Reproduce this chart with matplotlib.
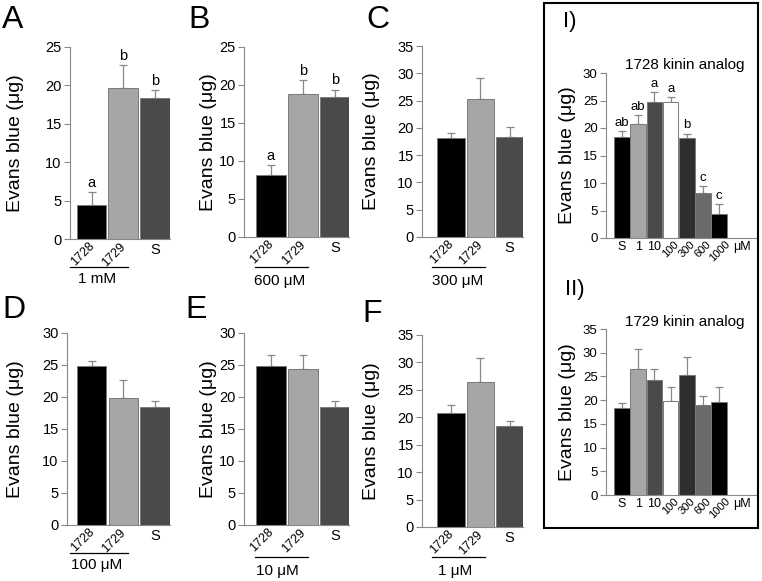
import matplotlib
matplotlib.use("Agg")
import matplotlib.pyplot as plt
from matplotlib.transforms import offset_copy, ScaledTranslation
from matplotlib.patches import Rectangle
from matplotlib.lines import Line2D

plt.rcParams['font.family'] = ['Liberation Sans', 'DejaVu Sans']

# ==============================
# DATA
# ==============================
groups = ['1728', '1729', 'S']

mean_A = [4.4, 19.6, 18.4]
err_A = [1.7, 3.0, 0.95]
mean_B = [8.1, 18.8, 18.4]
err_B = [1.4, 1.9, 1.0]
mean_C = [18.2, 25.2, 18.4]
err_C = [0.8, 4.0, 1.7]
mean_D = [24.8, 19.9, 18.4]
err_D = [0.8, 2.8, 1.0]
mean_E = [24.8, 24.3, 18.4]
err_E = [1.8, 2.3, 1.0]
mean_F = [20.7, 26.5, 18.4]
err_F = [1.6, 4.3, 1.0]

letters_A = ['a', 'b', 'b']
letters_B = ['a', 'b', 'b']

doses = ['S', '1', '10', '100', '300', '600', '1000']
mean_I = [18.4, 20.7, 24.8, 24.8, 18.2, 8.1, 4.4]
err_I = [1.0, 1.6, 1.8, 0.8, 0.8, 1.4, 1.7]
letters_I = ['ab', 'ab', 'a', 'a', 'b', 'c', 'c']
mean_II = [18.4, 26.5, 24.3, 19.9, 25.2, 18.9, 19.6]
err_II = [1.0, 4.3, 2.3, 2.8, 4.0, 1.9, 3.2]

group_colors = ['#000000', '#a6a6a6', '#4a4a4a']
dose_colors = ['#000000', '#a6a6a6', '#4a4a4a', '#ffffff', '#2e2e2e', '#6a6a6a', '#000000']

# ==============================
# HELPERS
# ==============================
W, H = 762, 581
GREY = '#888888'
YLAB = 'Evans blue (\u03bcg)'

fig = plt.figure(figsize=(W / 100, H / 100), dpi=100)


def add_ax(l, r, t, b):
    return fig.add_axes([l / W, 1 - b / H, (r - l) / W, (b - t) / H])


def style(ax, ymax, step, ysize=10.5):
    ax.set_ylim(0, ymax)
    ax.set_yticks(range(0, ymax + 1, step))
    for s in ['top', 'right']:
        ax.spines[s].set_visible(False)
    for s in ['left', 'bottom']:
        ax.spines[s].set_color(GREY)
        ax.spines[s].set_linewidth(0.8)
    ax.tick_params(axis='y', color=GREY, length=4, width=0.8, labelsize=ysize, pad=2)
    ax.tick_params(axis='x', length=0, pad=1)
    ax.patch.set_visible(False)


def bars(ax, means, errs, colors, width, letters=None, lsize=10.5):
    x = list(range(len(means)))
    ax.bar(x, means, width=width, color=colors, edgecolor='#7a7a7a',
           linewidth=0.7, zorder=2)
    ax.errorbar(x, means, yerr=[[0] * len(means), errs], fmt='none',
                ecolor=GREY, elinewidth=0.9, capsize=3, capthick=0.9, zorder=1)
    if letters:
        for xi, m, e, t in zip(x, means, errs, letters):
            ax.annotate(t, (xi, m + e), xytext=(0, 1.5), textcoords='offset points',
                        ha='center', va='bottom', fontsize=lsize)
    return x


# ==============================
# PANELS A-F
# ==============================
small = [
    dict(tag='A', m=mean_A, e=err_A, let=letters_A, conc='1 mM', ymax=25,
         box=(70, 170, 47, 239), xlim=(-0.68, 2.48), line=(28, 40),
         lx=(-0.68, 1.16), tx=0.17, ylx=16, tagxy=(13, 20)),
    dict(tag='B', m=mean_B, e=err_B, let=letters_B, conc='600 \u03bcM', ymax=25,
         box=(244, 349, 47, 237), xlim=(-0.82, 2.42), line=(30, 44),
         lx=(-0.48, 1.15), tx=0.29, ylx=209, tagxy=(199, 20)),
    dict(tag='C', m=mean_C, e=err_C, let=None, conc='300 \u03bcM', ymax=35,
         box=(422, 523, 46, 237), xlim=(-0.99, 2.46), line=(30, 44),
         lx=(-0.65, 1.16), tx=0.24, ylx=371, tagxy=(378, 20)),
    dict(tag='D', m=mean_D, e=err_D, let=None, conc='100 \u03bcM', ymax=30,
         box=(67, 170, 333, 525), xlim=(-0.78, 2.48), line=(28, 40),
         lx=(-0.68, 1.16), tx=0.17, ylx=16, tagxy=(14, 310)),
    dict(tag='E', m=mean_E, e=err_E, let=None, conc='10 \u03bcM', ymax=30,
         box=(244, 349, 333, 525), xlim=(-0.82, 2.42), line=(32, 46),
         lx=(-0.48, 1.15), tx=0.2, ylx=209, tagxy=(196, 310)),
    dict(tag='F', m=mean_F, e=err_F, let=None, conc='1 \u03bcM', ymax=35,
         box=(422, 523, 335, 527), xlim=(-0.99, 2.46), line=(30, 44),
         lx=(-0.65, 1.16), tx=0.14, ylx=371, tagxy=(372, 314)),
]

for p in small:
    l, r, t, b = p['box']
    ax = add_ax(l, r, t, b)
    style(ax, p['ymax'], 5)
    x = bars(ax, p['m'], p['e'], group_colors, 0.93, p['let'])
    ax.set_xlim(*p['xlim'])
    ax.set_xticks(x)
    ax.set_xticklabels(groups)
    shift = ScaledTranslation(5 / 100, 0, fig.dpi_scale_trans)
    for i, lab in enumerate(ax.get_xticklabels()):
        if groups[i] == 'S':
            lab.set_fontsize(10.5)
            lab.set_transform(lab.get_transform() + ScaledTranslation(0, -3 / 100, fig.dpi_scale_trans))
        else:
            lab.set_rotation(45)
            lab.set_ha('right')
            lab.set_fontsize(9)
            lab.set_transform(lab.get_transform() + shift)

    # concentration underline
    tr_line = offset_copy(ax.get_xaxis_transform(), fig=fig, y=-p['line'][0], units='dots')
    ax.add_line(Line2D(list(p['lx']), [0, 0], transform=tr_line, color='black',
                       lw=0.9, clip_on=False))
    tr_txt = offset_copy(ax.get_xaxis_transform(), fig=fig, y=-p['line'][1], units='dots')
    ax.text(p['tx'], 0, p['conc'], transform=tr_txt, ha='center', va='center',
            fontsize=11, clip_on=False)

    fig.text(p['ylx'] / W, 1 - (t + b) / 2 / H, YLAB, rotation=90,
             ha='center', va='center', fontsize=14)
    fig.text(p['tagxy'][0] / W, 1 - p['tagxy'][1] / H, p['tag'],
             ha='center', va='center', fontsize=23)

# ==============================
# PANELS I / II
# ==============================
big = [
    dict(tag='I)', m=mean_I, e=err_I, let=letters_I, title='1728 kinin analog',
         ymax=30, box=(606, 757, 73, 238), tagxy=(570, 22), titley=65),
    dict(tag='II)', m=mean_II, e=err_II, let=None, title='1729 kinin analog',
         ymax=35, box=(606, 757, 329, 495), tagxy=(575, 290), titley=322),
]

for p in big:
    l, r, t, b = p['box']
    ax = add_ax(l, r, t, b)
    style(ax, p['ymax'], 5, ysize=9.5)
    x = bars(ax, p['m'], p['e'], dose_colors, 0.96, p['let'], lsize=9.5)
    ax.set_xlim(-0.99, 8.33)
    ax.set_xticks(x + [7.4])
    ax.set_xticklabels(doses + ['\u03bcM'])
    for i, lab in enumerate(ax.get_xticklabels()):
        lab.set_fontsize(9)
        if i >= 3 and i < len(doses):
            lab.set_rotation(45)
            lab.set_ha('center')
            lab.set_fontsize(8)
        else:
            lab.set_transform(lab.get_transform() + ScaledTranslation(0, -2 / 100, fig.dpi_scale_trans))

    fig.text((l + r) / 2 / W + 0.004, 1 - p['titley'] / H, p['title'],
             ha='center', va='center', fontsize=11)
    fig.text(567 / W, 1 - (t + b) / 2 / H, YLAB, rotation=90,
             ha='center', va='center', fontsize=14)
    fig.text(p['tagxy'][0] / W, 1 - p['tagxy'][1] / H, p['tag'],
             ha='center', va='center', fontsize=16)

fig.add_artist(Rectangle((544 / W, 1 - 528 / H), (758 - 544) / W, (528 - 3) / H,
                         transform=fig.transFigure, fill=False,
                         edgecolor='black', lw=1.5))

fig.savefig('out.png', dpi=100)
